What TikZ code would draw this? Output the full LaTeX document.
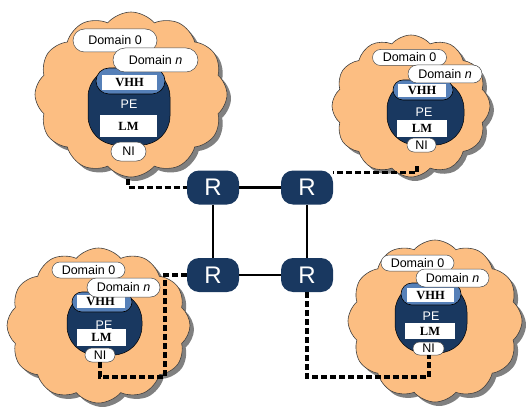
\documentclass[tikz,border=0pt]{standalone}
\usepackage{fontspec}
\setmainfont{Liberation Serif}
\setsansfont{Liberation Sans}
\usetikzlibrary{shapes.symbols,shapes.misc,shadows,calc}

\definecolor{cloudfill}{RGB}{252,190,130}
\definecolor{penavy}{RGB}{25,56,96}
\definecolor{vhhblue}{RGB}{86,128,184}

\tikzset{
  site/.style={cloud, cloud puffs=12, cloud puff arc=100, cloud ignores aspect,
    inner sep=0pt, fill=cloudfill, draw=black!75, line width=0.6pt,
    drop shadow={shadow xshift=4pt, shadow yshift=-4pt, fill=black!50, opacity=1}},
  domainpill/.style={rounded rectangle, fill=white, draw=black!70, line width=0.5pt,
    inner sep=0pt, font=\sffamily\fontsize{12.5}{14}\selectfont},
  peblob/.style={rectangle, rounded corners=29pt, fill=penavy, draw=black, line width=0.5pt},
  vhhpill/.style={rounded rectangle, fill=vhhblue, draw=black, line width=0.6pt, inner sep=0pt},
  labelbox/.style={rectangle, fill=white, inner sep=0pt,
    font=\rmfamily\bfseries\fontsize{12.5}{14}\selectfont},
  petext/.style={text=white, inner sep=0pt, font=\sffamily\fontsize{12.5}{14}\selectfont},
  nipill/.style={rounded rectangle, fill=white, draw=black!70, line width=0.5pt,
    inner sep=0pt, font=\sffamily\fontsize{12.5}{14}\selectfont},
  router/.style={rectangle, rounded corners=12pt, fill=penavy, minimum width=52pt,
    minimum height=34pt, inner sep=0pt, text=white,
    font=\sffamily\fontsize{24}{26}\selectfont},
  link/.style={line width=2.8pt, black},
  tap/.style={line width=3.2pt, black, dash pattern=on 6pt off 3pt},
}

\begin{document}
\begin{tikzpicture}[x=1pt, y=-1pt]
\useasboundingbox (0,0) rectangle (526,406);

% ---- site A (top left) ----
\node[site, minimum width=192pt, minimum height=165pt] (cloudA) at (131,94.5) {};
\node[peblob, minimum width=82pt, minimum height=77pt] (peA) at (129,106.5) {};
\node[vhhpill, minimum width=69pt, minimum height=26pt] (vhhA) at (130.5,81) {};
\node[labelbox, minimum width=55pt, minimum height=15pt] (vhhtA) at (129.5,82.5) {VHH};
\node[petext] (petA) at (129,104) {PE};
\node[labelbox, minimum width=57pt, minimum height=21pt] (lmA) at (128.5,126) {LM};
\node[nipill, minimum width=35pt, minimum height=19pt] (niA) at (128.5,151.5) {NI};
\node[domainpill, minimum width=84pt, minimum height=23pt] (d0A) at (115,40.5) {Domain 0};
\node[domainpill, minimum width=85pt, minimum height=24pt] (dnA) at (155.5,60) {Domain \textit{n}};
\coordinate (tapA) at (128,179);

% ---- site B (top right) ----
\node[site, minimum width=158pt, minimum height=142pt] (cloudB) at (411,106) {};
\node[peblob, minimum width=77pt, minimum height=65pt] (peB) at (425.5,112.5) {};
\node[vhhpill, minimum width=60pt, minimum height=20pt] (vhhB) at (423,90) {};
\node[labelbox, minimum width=48pt, minimum height=13pt] (vhhtB) at (422,90.5) {VHH};
\node[petext] (petB) at (424,112) {PE};
\node[labelbox, minimum width=50pt, minimum height=17pt] (lmB) at (422,128.5) {LM};
\node[nipill, minimum width=29pt, minimum height=14pt] (niB) at (421.5,145) {NI};
\node[domainpill, minimum width=74pt, minimum height=16pt] (d0B) at (409.5,57.5) {Domain 0};
\node[domainpill, minimum width=74pt, minimum height=18pt] (dnB) at (445,74) {Domain \textit{n}};
\coordinate (tapB) at (417,166);

% ---- site C (bottom left) ----
\node[site, minimum width=183pt, minimum height=155pt] (cloudC) at (98.5,325.5) {};
\node[peblob, minimum width=75pt, minimum height=63pt] (peC) at (104.5,323.5) {};
\node[vhhpill, minimum width=60pt, minimum height=20pt] (vhhC) at (102,302) {};
\node[labelbox, minimum width=48pt, minimum height=13pt] (vhhtC) at (100.5,301.5) {VHH};
\node[petext] (petC) at (104,325) {PE};
\node[labelbox, minimum width=49pt, minimum height=17pt] (lmC) at (101.5,337.5) {LM};
\node[nipill, minimum width=30pt, minimum height=14pt] (niC) at (100,355) {NI};
\node[domainpill, minimum width=73pt, minimum height=16pt] (d0C) at (88.5,270) {Domain 0};
\node[domainpill, minimum width=73pt, minimum height=19pt] (dnC) at (123.5,287.5) {Domain \textit{n}};
\coordinate (turnC) at (165,377);

% ---- site D (bottom right) ----
\node[site, minimum width=174pt, minimum height=162pt] (cloudD) at (435,321) {};
\node[peblob, minimum width=72pt, minimum height=70pt] (peD) at (431,318) {};
\node[vhhpill, minimum width=60pt, minimum height=22pt] (vhhD) at (431,294) {};
\node[labelbox, minimum width=47pt, minimum height=14pt] (vhhtD) at (430.5,295) {VHH};
\node[petext] (petD) at (431,316) {PE};
\node[labelbox, minimum width=50pt, minimum height=16pt] (lmD) at (430,331) {LM};
\node[nipill, minimum width=31pt, minimum height=13pt] (niD) at (428.5,348.5) {NI};
\node[domainpill, minimum width=73pt, minimum height=16pt] (d0D) at (417.5,263) {Domain 0};
\node[domainpill, minimum width=73pt, minimum height=18pt] (dnD) at (452.5,278) {Domain \textit{n}};
\coordinate (turnD) at (429,377);

% ---- routers ----
\node[router] (R1) at (213,187.5) {R};
\node[router] (R2) at (307,187.5) {R};
\node[router] (R3) at (213,275) {R};
\node[router] (R4) at (307,275) {R};

% ---- router mesh ----
\draw[link] (R1) -- (R2);
\draw[link] (R1) -- (R3);
\draw[link] (R2) -- (R4);
\draw[link] (R3) -- (R4);

% ---- site attachments ----
\draw[tap] (tapA) |- (R1.west);
\draw[tap] (tapB) |- ([yshift=15pt]R2.east);
\draw[tap] (niC.south) |- (turnC) |- (R3.west);
\draw[tap] (R4.south) |- (turnD) -- (turnD |- niD.south);
\end{tikzpicture}
\end{document}
